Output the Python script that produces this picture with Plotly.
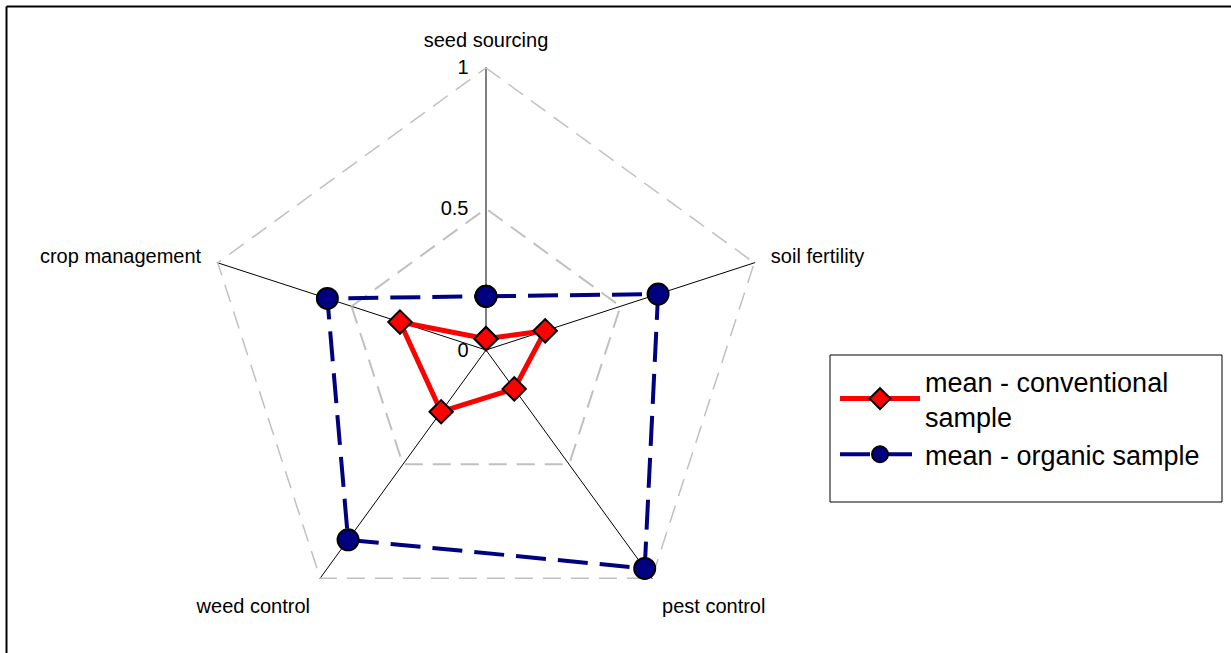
import plotly.graph_objects as go

categories = ["seed sourcing", "soil fertility", "pest control", "weed control", "crop management"]
conventional = [0.04, 0.22, 0.17, 0.27, 0.32]
organic = [0.19, 0.64, 0.955, 0.83, 0.59]
outer_level = [1, 1, 1, 1, 1]
radial_ticks = [0, 0.5, 1]
radial_labels = ["0", "0.5", "1"]

W, H = 1231, 653
cx, cy, R = 486, 350, 283

def close(v):
    return list(v) + [v[0]]

fig = go.Figure()
fig.add_trace(go.Scatterpolar(
    r=close(outer_level), theta=close(categories), mode="lines",
    line=dict(color="#c0c0c0", width=2.5, dash="18px,10px"),
    showlegend=False, hoverinfo="skip",
))
fig.add_trace(go.Scatterpolar(
    r=close(conventional), theta=close(categories), mode="lines+markers",
    name="mean - conventional<br>sample",
    line=dict(color="#ff0000", width=5),
    marker=dict(symbol="diamond", size=18, color="#ff0000", line=dict(color="black", width=2)),
))
fig.add_trace(go.Scatterpolar(
    r=close(organic), theta=close(categories), mode="lines+markers",
    name="mean - organic sample",
    line=dict(color="#000080", width=4, dash="30px,12px"),
    marker=dict(symbol="circle", size=21, color="#000080", line=dict(color="black", width=2)),
))

fig.update_layout(
    width=W, height=H,
    margin=dict(l=0, r=0, t=0, b=0),
    paper_bgcolor="white",
    font=dict(family="Liberation Sans, Arial, sans-serif", color="black", size=20),
    polar=dict(
        bgcolor="white",
        gridshape="linear",
        domain=dict(x=[(cx - R) / W, (cx + R) / W], y=[1 - (cy + R) / H, 1 - (cy - R) / H]),
        angularaxis=dict(
            rotation=90, direction="clockwise",
            showline=False, gridcolor="black", gridwidth=1,
            ticks="outside", ticklen=12, tickcolor="rgba(0,0,0,0)",
            tickfont=dict(size=20),
        ),
        radialaxis=dict(
            range=[0, 1.001], tickvals=radial_ticks, ticktext=radial_labels,
            angle=90, side="counterclockwise", showline=False,
            ticks="outside", ticklen=10, tickcolor="rgba(0,0,0,0)",
            gridcolor="#c0c0c0", gridwidth=2, griddash="18px,10px",
            tickfont=dict(size=20), tickangle=90,
        ),
    ),
    legend=dict(
        x=835 / W, y=1 - 357 / H, xanchor="left", yanchor="top",
        font=dict(size=27), bgcolor="rgba(0,0,0,0)", borderwidth=0,
        itemwidth=80, tracegroupgap=4,
    ),
    shapes=[
        dict(type="rect", xref="paper", yref="paper",
             x0=830 / W, x1=1222 / W, y0=1 - 502 / H, y1=1 - 355 / H,
             line=dict(color="black", width=1)),
        dict(type="line", xref="paper", yref="paper",
             x0=6.5 / W, x1=1, y0=1 - 6.5 / H, y1=1 - 6.5 / H,
             line=dict(color="black", width=2)),
        dict(type="line", xref="paper", yref="paper",
             x0=6.5 / W, x1=6.5 / W, y0=0, y1=1 - 6.5 / H,
             line=dict(color="black", width=2)),
    ],
)

fig.write_html("out.html", config={"displayModeBar": False},
               post_script="document.body.style.margin='0';document.body.style.overflow='hidden';")
